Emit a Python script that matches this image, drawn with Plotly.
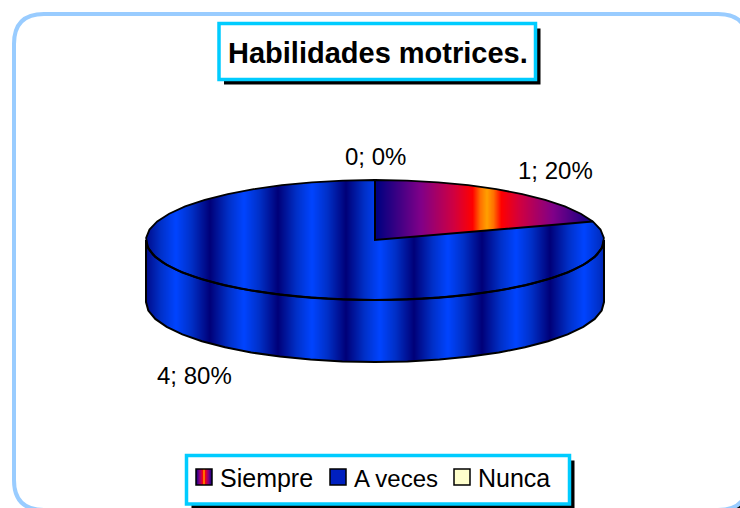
import numpy as np
import plotly.graph_objects as go

TITLE = "Habilidades motrices."
CATEGORIES = ["Siempre", "A veces", "Nunca"]
COUNTS = [1, 4, 0]

WIDTH, HEIGHT = 740, 508
CX, CY = 375, 240      # pie centre
RX, RY = 229, 60       # top ellipse
DEPTH = 62             # wall height

BLUE_SCALE = [[0, "#0044FF"], [0.45, "#0030C8"], [1, "#000078"]]
FIRE_SCALE = [
    [0, "#FFA000"], [0.06, "#FF7000"], [0.13, "#FF0000"], [0.3, "#D00040"],
    [0.6, "#800088"], [1, "#000080"],
]
FRAME_LINE = "#99CCFF"
BOX_LINE = "#00CCFF"


def rounded_path(x0, y0, x1, y1, r):
    return (
        f"M {x0 + r} {y0} L {x1 - r} {y0} Q {x1} {y0} {x1} {y0 + r} "
        f"L {x1} {y1 - r} Q {x1} {y1} {x1 - r} {y1} "
        f"L {x0 + r} {y1} Q {x0} {y1} {x0} {y1 - r} "
        f"L {x0} {y0 + r} Q {x0} {y0} {x0 + r} {y0} Z"
    )


def boxed(x0, y0, x1, y1):
    """black drop shadow and cyan border, as Excel draws them"""
    return [
        dict(type="rect", x0=x0 + 5, y0=y0 + 5, x1=x1 + 5, y1=y1 + 5,
             fillcolor="black", line=dict(width=0), layer="below"),
        dict(type="rect", x0=x0, y0=y0, x1=x1, y1=y1,
             fillcolor="white", line=dict(color=BOX_LINE, width=3.5), layer="below"),
    ]


def rim(t0, t1):
    t = np.radians(np.linspace(t0, t1, max(2, int(abs(t1 - t0) / 8) + 1)))
    return CX + RX * np.sin(t), CY - RY * np.cos(t)


def outline(x, y, width=2):
    return go.Scatter(x=x, y=y, mode="lines", line=dict(color="black", width=width),
                      hoverinfo="skip", showlegend=False)


total = sum(COUNTS)
shares = [c / total for c in COUNTS]
split = shares[0] * 360     # Siempre runs clockwise from the top

xs = np.arange(WIDTH) + 0.5
ys = np.arange(HEIGHT) + 0.5
gx, gy = np.meshgrid(xs, ys)

# vertical bands of the two gradient fills
blue_z = np.abs(((gx - 380) / 68 + 0.5) % 1 - 0.5) * 2
fire_z = np.minimum(np.abs(gx - 487) / 110, 1)

u = (gx - CX) / RX
v = (gy - CY) / RY
inside = u ** 2 + v ** 2 <= 1
theta = np.degrees(np.arctan2(u, -v)) % 360
below = u ** 2 + ((gy - CY - DEPTH) / RY) ** 2 <= 1
wall = (np.abs(u) <= 1) & (gy >= CY) & (below | (gy <= CY + DEPTH)) & ~inside

fig = go.Figure()

blue_mask = wall | (inside & (theta >= split))
fig.add_trace(go.Heatmap(
    x=xs, y=ys, z=np.where(blue_mask, blue_z, np.nan).tolist(), zmin=0, zmax=1,
    colorscale=BLUE_SCALE, showscale=False, hoverinfo="skip",
))
fig.add_trace(go.Heatmap(
    x=xs, y=ys, z=np.where(inside & (theta < split), fire_z, np.nan).tolist(), zmin=0, zmax=1,
    colorscale=FIRE_SCALE, showscale=False, hoverinfo="skip",
))

# pie outlines
x_top, y_top = rim(0, 360)
fig.add_trace(outline(x_top, y_top, 1.8))
x_front, y_front = rim(90, 270)
fig.add_trace(outline(x_front, y_front, 2.2))
fig.add_trace(outline(
    np.r_[CX + RX, x_front, CX - RX],
    np.r_[CY, y_front + DEPTH, CY],
))
x_edge, y_edge = rim(split, split)
fig.add_trace(outline([CX, CX, x_edge[0]], [CY - RY, CY, y_edge[0]]))

# legend swatch with the fire gradient
sw_x = np.arange(196, 212) + 0.5
sw_y = np.arange(469, 485) + 0.5
fig.add_trace(go.Heatmap(
    x=sw_x, y=sw_y, z=np.tile(np.abs(sw_x - 204) / 8, (len(sw_y), 1)).tolist(), zmin=0, zmax=1,
    colorscale=FIRE_SCALE, showscale=False, hoverinfo="skip",
))

shapes = [
    dict(type="path", path=rounded_path(19, 19, 753, 515, 30), fillcolor="black",
         line=dict(width=0), layer="below"),
    dict(type="path", path=rounded_path(14, 14, 748, 510, 30), fillcolor="white",
         line=dict(color=FRAME_LINE, width=4), layer="below"),
]
shapes += boxed(219, 23.5, 535.5, 79.5)
shapes += boxed(186.5, 455.5, 569.5, 504)
shapes += [
    dict(type="rect", x0=196, y0=469, x1=212, y1=485, line=dict(color="black", width=1.5),
         fillcolor="rgba(0,0,0,0)"),
    dict(type="rect", x0=330, y0=469, x1=346, y1=485, line=dict(color="black", width=1.5),
         fillcolor="#0020C0"),
    dict(type="rect", x0=454, y0=469, x1=470, y1=485, line=dict(color="black", width=1.5),
         fillcolor="#FFFFCC"),
]


def text_at(x, y, text, size, anchor="center", bold=False):
    return dict(x=x, y=y, text=f"<b>{text}</b>" if bold else text, showarrow=False,
                xanchor=anchor, yanchor="middle", font=dict(size=size, color="black"))


labels = [f"{c}; {round(s * 100)}%" for c, s in zip(COUNTS, shares)]
annotations = [
    text_at(378, 53, TITLE, 29, bold=True),
    text_at(555, 170, labels[0], 24),
    text_at(194, 375, labels[1], 24),
    text_at(375, 156, labels[2], 24),
    text_at(218, 478, CATEGORIES[0], 25, "left"),
    text_at(352, 478, CATEGORIES[1], 24, "left"),
    text_at(476, 478, CATEGORIES[2], 25, "left"),
]

fig.update_layout(
    width=WIDTH,
    height=HEIGHT,
    margin=dict(l=0, r=0, t=0, b=0),
    paper_bgcolor="white",
    plot_bgcolor="rgba(0,0,0,0)",
    font=dict(family="Liberation Sans, Arial, sans-serif", color="black"),
    showlegend=False,
    xaxis=dict(range=[0, WIDTH], visible=False, fixedrange=True),
    yaxis=dict(range=[HEIGHT, 0], visible=False, fixedrange=True),
    shapes=shapes,
    annotations=annotations,
)

fig.write_html("out.html", config=dict(displayModeBar=False),
               post_script="document.body.style.margin='0';")
